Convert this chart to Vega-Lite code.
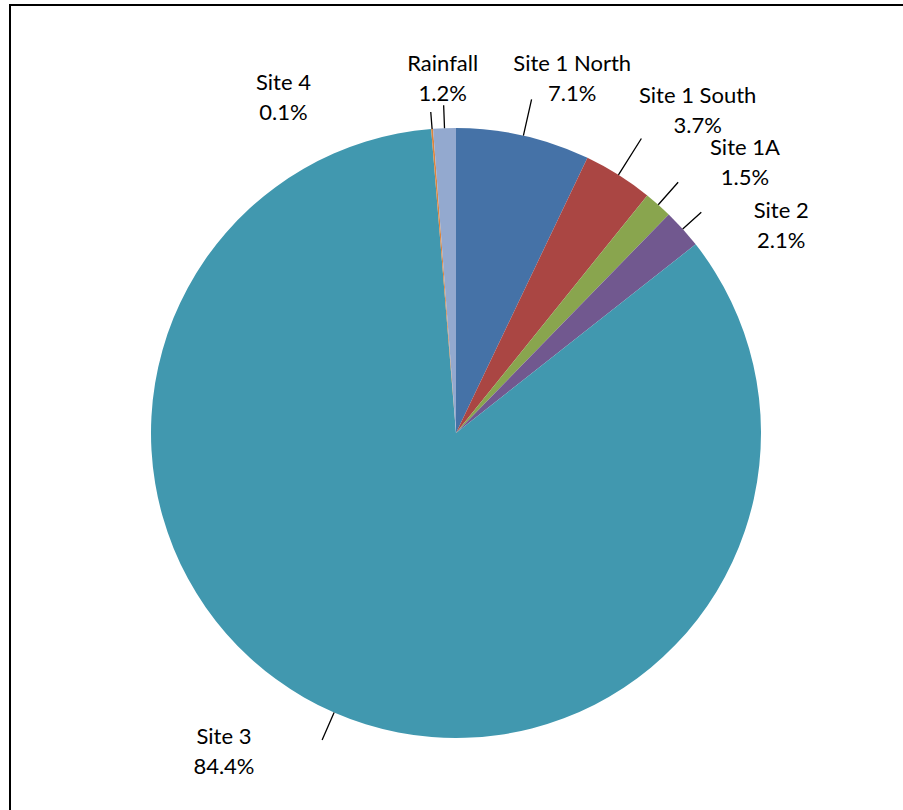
{
  "$schema": "https://vega.github.io/schema/vega-lite/v6.json",
  "width": 895,
  "height": 807,
  "autosize": {"type": "none"},
  "padding": {"left": 10, "top": 5, "right": -2, "bottom": -2},
  "background": "white",
  "view": {"stroke": "black", "strokeWidth": 2, "fill": "white"},
  "config": {
    "view": {"stroke": "black", "strokeWidth": 2},
    "text": {"font": "Lato", "fontSize": 22, "lineHeight": 30, "align": "center", "baseline": "middle", "color": "black", "lineBreak": "\n"},
    "arc": {"x": 446, "y": 428}
  },
  "data": {
    "values": [
      {"category": "Site 1 North", "value": 7.1},
      {"category": "Site 1 South", "value": 3.7},
      {"category": "Site 1A", "value": 1.5},
      {"category": "Site 2", "value": 2.1},
      {"category": "Site 3", "value": 84.4},
      {"category": "Site 4", "value": 0.1},
      {"category": "Rainfall", "value": 1.2}
    ]
  },
  "transform": [
    {"window": [{"op": "row_number", "as": "idx"}]},
    {"stack": "value", "groupby": [], "sort": [{"field": "idx", "order": "ascending"}], "as": ["v0", "v1"]},
    {"calculate": "(datum.v0 + datum.v1) / 2", "as": "mid"},
    {"calculate": "datum.category + '\\n' + format(datum.value, '.1f') + '%'", "as": "label"}
  ],
  "encoding": {
    "theta": {"field": "mid", "type": "quantitative", "scale": {"domain": [0, 100.1]}}
  },
  "layer": [
    {
      "mark": {"type": "arc", "x": 446, "y": 428, "radius": 305},
      "encoding": {
        "theta": {"field": "v0", "type": "quantitative", "scale": {"domain": [0, 100.1]}},
        "theta2": {"field": "v1"},
        "color": {
          "field": "category",
          "type": "nominal",
          "legend": null,
          "scale": {
            "domain": ["Site 1 North", "Site 1 South", "Site 1A", "Site 2", "Site 3", "Site 4", "Rainfall"],
            "range": ["#4572A7", "#AA4643", "#89A54E", "#71588F", "#4198AF", "#DB843D", "#93A9CF"]
          }
        }
      }
    },
    {
      "transform": [{"filter": "datum.category === 'Rainfall'"}],
      "layer": [
        {"mark": {"type": "arc", "x": 446, "y": 428, "radius": 328, "radius2": 305, "filled": false, "color": "black", "strokeWidth": 1.3}, "encoding": {"theta2": {"field": "mid"}}},
        {"mark": {"type": "text", "x": 446, "y": 428, "radius": 354, "dx": 0, "dy": -15}, "encoding": {"text": {"field": "label"}}}
      ]
    },
    {
      "transform": [{"filter": "datum.category === 'Site 1 North'"}],
      "layer": [
        {"mark": {"type": "arc", "x": 446, "y": 428, "radius": 342, "radius2": 305, "filled": false, "color": "black", "strokeWidth": 1.3}, "encoding": {"theta2": {"field": "mid"}}},
        {"mark": {"type": "text", "x": 446, "y": 428, "radius": 372, "dx": 34, "dy": -6}, "encoding": {"text": {"field": "label"}}}
      ]
    },
    {
      "transform": [{"filter": "datum.category === 'Site 1 South'"}],
      "layer": [
        {"mark": {"type": "arc", "x": 446, "y": 428, "radius": 348, "radius2": 305, "filled": false, "color": "black", "strokeWidth": 1.3}, "encoding": {"theta2": {"field": "mid"}}},
        {"mark": {"type": "text", "x": 446, "y": 428, "radius": 403, "dx": 27, "dy": 4}, "encoding": {"text": {"field": "label"}}}
      ]
    },
    {
      "transform": [{"filter": "datum.category === 'Site 1A'"}],
      "layer": [
        {"mark": {"type": "arc", "x": 446, "y": 428, "radius": 335, "radius2": 305, "filled": false, "color": "black", "strokeWidth": 1.3}, "encoding": {"theta2": {"field": "mid"}}},
        {"mark": {"type": "text", "x": 446, "y": 428, "radius": 395, "dx": 27, "dy": 11}, "encoding": {"text": {"field": "label"}}}
      ]
    },
    {
      "transform": [{"filter": "datum.category === 'Site 2'"}],
      "layer": [
        {"mark": {"type": "arc", "x": 446, "y": 428, "radius": 330, "radius2": 305, "filled": false, "color": "black", "strokeWidth": 1.3}, "encoding": {"theta2": {"field": "mid"}}},
        {"mark": {"type": "text", "x": 446, "y": 428, "radius": 385, "dx": 39, "dy": 36}, "encoding": {"text": {"field": "label"}}}
      ]
    },
    {
      "transform": [{"filter": "datum.category === 'Site 3'"}],
      "layer": [
        {"mark": {"type": "arc", "x": 446, "y": 428, "radius": 335, "radius2": 305, "filled": false, "color": "black", "strokeWidth": 1.3}, "encoding": {"theta2": {"field": "mid"}}},
        {"mark": {"type": "text", "x": 446, "y": 428, "radius": 393, "dx": -75, "dy": -56}, "encoding": {"text": {"field": "label"}}}
      ]
    },
    {
      "transform": [{"filter": "datum.category === 'Site 4'"}],
      "layer": [
        {"mark": {"type": "arc", "x": 446, "y": 428, "radius": 322, "radius2": 305, "filled": false, "color": "black", "strokeWidth": 1.3}, "encoding": {"theta2": {"field": "mid"}}},
        {"mark": {"type": "text", "x": 446, "y": 428, "radius": 377, "dx": -143, "dy": 26}, "encoding": {"text": {"field": "label"}}}
      ]
    }
  ]
}
